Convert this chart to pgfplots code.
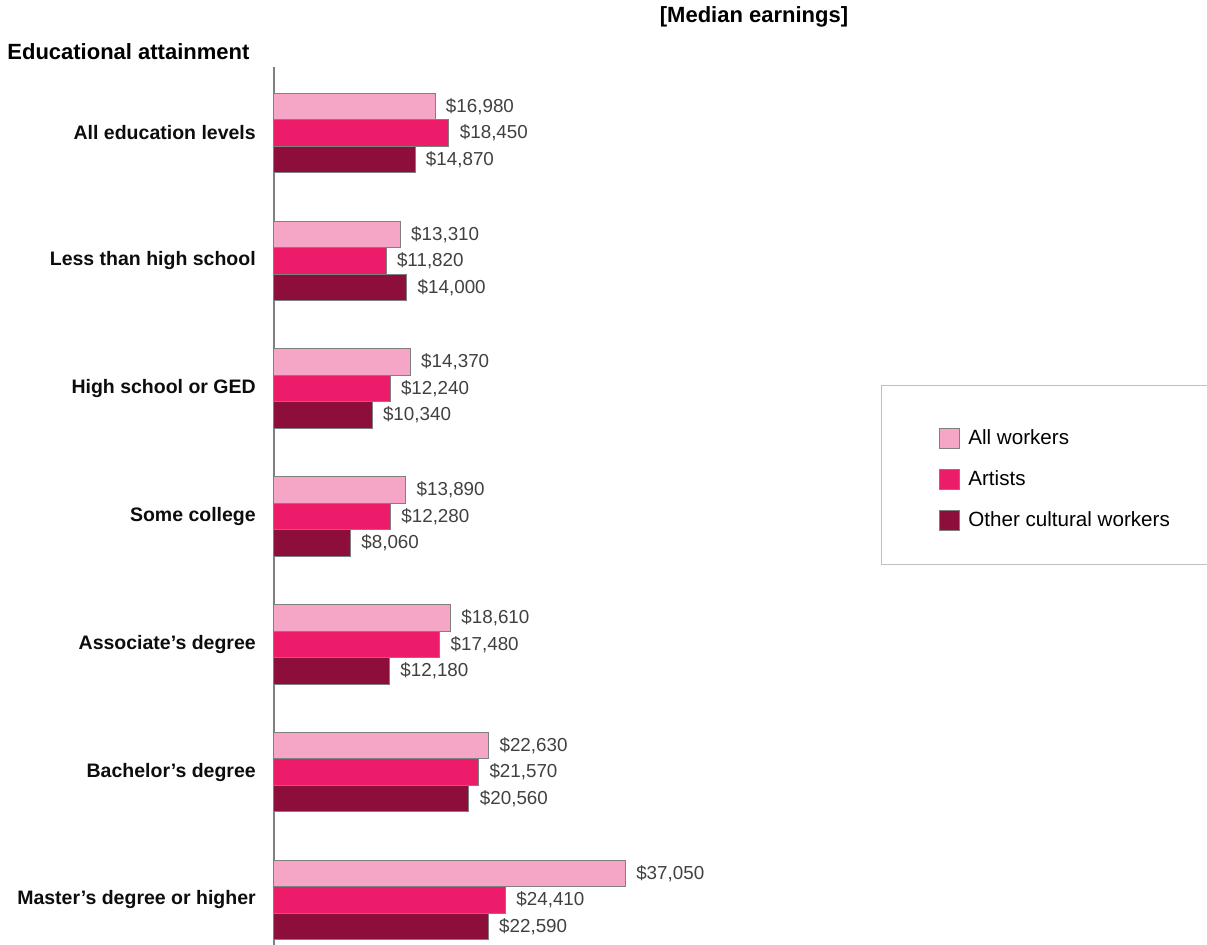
\documentclass[border=0pt]{standalone}
\usepackage{fontspec}
\setmainfont{Liberation Sans}
\usepackage{pgfplots}
\pgfplotsset{compat=1.18}
\definecolor{cAll}{HTML}{F5A6C6}
\definecolor{cArt}{HTML}{EC1C6B}
\definecolor{cOth}{HTML}{8E0E3B}
\begin{document}
\begin{tikzpicture}
\useasboundingbox (0,0) rectangle (603.5pt,-472.5pt);
\begin{axis}[
  at={(137pt,-472.5pt)}, anchor=south west,
  scale only axis, width=189.65pt, height=439pt,
  xmin=0, xmax=40000, ymin=-0.352, ymax=6.516,
  axis x line=none, axis y line*=left,
  y axis line style={draw=black!50, line width=0.9pt},
  xtick=\empty,
  ytick={0,1,2,3,4,5,6},
  yticklabels={Master's degree or higher,Bachelor's degree,Associate's degree,Some college,High school or GED,Less than high school,All education levels},
  major tick length=0pt,
  yticklabel style={font=\bfseries\fontsize{9.75}{11}\selectfont, text=black!95, xshift=-5.6pt},
  xbar, bar width=13.25pt,
  nodes near coords, point meta=explicit symbolic,
  every node near coord/.append style={font=\fontsize{9.4}{11}\selectfont, text=black!75, anchor=west, xshift=1.9pt},
  clip=false,
  legend style={draw=none, fill=none, inner sep=0pt, at={(1.7532,0.5888)}, anchor=north west,
    font=\fontsize{10.3}{12}\selectfont, row sep=10pt, column sep=4pt, nodes={inner sep=0pt}},
  legend cell align=left,
  legend image code/.code={\draw[#1, draw=black!50, line width=0.5pt] (0pt,-5pt) rectangle (10pt,5pt);},
]
\addplot[fill=cAll, draw=black!50, line width=0.5pt, bar shift=13.25pt] coordinates {
  (16980,6) [\$16,980]
  (13310,5) [\$13,310]
  (14370,4) [\$14,370]
  (13890,3) [\$13,890]
  (18610,2) [\$18,610]
  (22630,1) [\$22,630]
  (37050,0) [\$37,050]
};
\addplot[fill=cArt, draw=black!50, line width=0.5pt, bar shift=0pt] coordinates {
  (18450,6) [\$18,450]
  (11820,5) [\$11,820]
  (12240,4) [\$12,240]
  (12280,3) [\$12,280]
  (17480,2) [\$17,480]
  (21570,1) [\$21,570]
  (24410,0) [\$24,410]
};
\addplot[fill=cOth, draw=black!50, line width=0.5pt, bar shift=-13.25pt] coordinates {
  (14870,6) [\$14,870]
  (14000,5) [\$14,000]
  (10340,4) [\$10,340]
  (8060,3) [\$8,060]
  (12180,2) [\$12,180]
  (20560,1) [\$20,560]
  (22590,0) [\$22,590]
};
\legend{All workers,Artists,Other cultural workers}
\end{axis}
\draw[black!25, line width=0.5pt] (440.5pt,-193pt) rectangle (650pt,-282.5pt);
\node[anchor=west, font=\bfseries\fontsize{11}{13}\selectfont, inner sep=0pt] at (3.5pt,-26pt) {Educational attainment};
\node[font=\bfseries\fontsize{11}{13}\selectfont, inner sep=0pt] at (377pt,-8.5pt) {[Median earnings]};
\end{tikzpicture}
\end{document}
